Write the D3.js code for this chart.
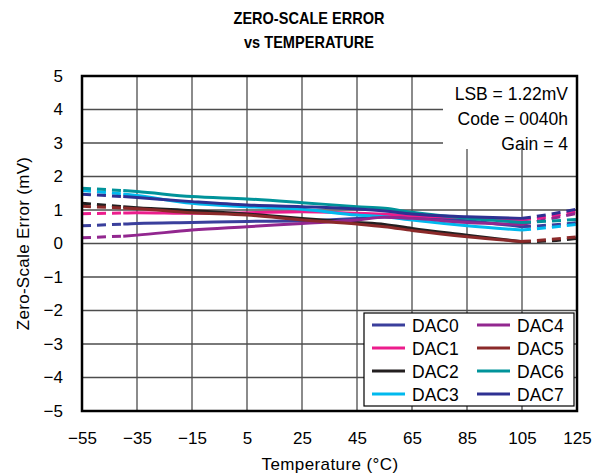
<!DOCTYPE html>
<html><head><meta charset="utf-8">
<script src="https://cdn.jsdelivr.net/npm/d3@7"></script>
<style>body{margin:0;background:#fff;} text{font-family:"Liberation Sans",Arial,sans-serif;}</style>
</head><body><svg id="c" width="603" height="476"></svg>
<script>
const temps = [-55, -40, -35, -15, 5, 25, 45, 55, 65, 85, 105, 115, 125];
const dac0 = [0.53, 0.58, 0.60, 0.63, 0.66, 0.68, 0.75, 0.80, 0.80, 0.68, 0.50, 0.55, 0.62];
const dac1 = [0.89, 0.91, 0.92, 0.90, 0.92, 0.95, 0.90, 0.87, 0.83, 0.77, 0.70, 0.80, 0.95];
const dac2 = [1.20, 1.10, 1.07, 0.98, 0.88, 0.75, 0.63, 0.57, 0.45, 0.25, 0.05, 0.08, 0.15];
const dac3 = [1.58, 1.48, 1.43, 1.20, 1.10, 1.02, 0.85, 0.80, 0.70, 0.53, 0.40, 0.48, 0.57];
const dac4 = [0.17, 0.22, 0.25, 0.40, 0.50, 0.60, 0.70, 0.78, 0.75, 0.63, 0.57, 0.73, 0.90];
const dac5 = [1.11, 1.06, 1.04, 0.92, 0.85, 0.70, 0.58, 0.50, 0.39, 0.20, 0.06, 0.12, 0.20];
const dac6 = [1.65, 1.58, 1.55, 1.40, 1.33, 1.22, 1.10, 1.05, 0.93, 0.75, 0.63, 0.67, 0.72];
const dac7 = [1.47, 1.40, 1.37, 1.25, 1.15, 1.10, 1.03, 0.97, 0.88, 0.80, 0.75, 0.87, 1.03];
const seriesNames = ["DAC0","DAC1","DAC2","DAC3","DAC4","DAC5","DAC6","DAC7"];
const seriesColors = ["#3a3f9c","#ec1c8c","#231f20","#00b9ee","#92278f","#8b2a2a","#00939a","#2e3192"];
const seriesValues = [dac0,dac1,dac2,dac3,dac4,dac5,dac6,dac7];
const xTicks = [-55,-35,-15,5,25,45,65,85,105,125];
const yTicks = [-5,-4,-3,-2,-1,0,1,2,3,4,5];
const solidFrom = -40, solidTo = 105;
const notes = ["LSB = 1.22mV","Code = 0040h","Gain = 4"];
const titleLines = ["ZERO-SCALE ERROR","vs TEMPERATURE"];

const svg = d3.select("#c");
const L=82, R=577, T=76, B=411;
const x = d3.scaleLinear().domain([-55,125]).range([L,R]);
const y = d3.scaleLinear().domain([-5,5]).range([B,T]);
const fmt = v => (v<0 ? "\u2212"+Math.abs(v) : ""+v);
const FONT = "Liberation Sans, Arial, sans-serif";

// title
const titleW = [151,130];
titleLines.forEach((t,i)=>svg.append("text").attr("x",309).attr("y",24+i*24).attr("text-anchor","middle")
  .attr("font-size",17).attr("font-weight","bold").attr("textLength",titleW[i]).attr("lengthAdjust","spacingAndGlyphs").text(t));

// grid
const g = svg.append("g");
g.selectAll(".gx").data(xTicks).join("line").attr("x1",d=>x(d)).attr("x2",d=>x(d)).attr("y1",T).attr("y2",B).attr("stroke","#4d4d4d").attr("stroke-width",1.3);
g.selectAll(".gy").data(yTicks).join("line").attr("y1",d=>y(d)).attr("y2",d=>y(d)).attr("x1",L).attr("x2",R).attr("stroke","#4d4d4d").attr("stroke-width",1.3);

// axes labels
const xa = d3.axisBottom(x).tickValues(xTicks).tickFormat(fmt).tickSize(0).tickPadding(21);
svg.append("g").attr("transform",`translate(0,${B})`).call(xa).call(s=>{s.select(".domain").remove();s.selectAll("text").attr("font-size",17).attr("fill","#000").attr("font-family",FONT);});
const ya = d3.axisLeft(y).tickValues(yTicks).tickFormat(fmt).tickSize(0).tickPadding(19);
svg.append("g").attr("transform",`translate(${L},0)`).call(ya).call(s=>{s.select(".domain").remove();s.selectAll("text").attr("font-size",17).attr("fill","#000").attr("font-family",FONT);});

svg.append("text").attr("x",330).attr("y",470).attr("text-anchor","middle").attr("font-size",17).attr("letter-spacing",0.4).text("Temperature (\u00B0C)");
svg.append("text").attr("transform",`translate(29,${(T+B)/2}) rotate(-90)`).attr("text-anchor","middle").attr("font-size",17).attr("letter-spacing",0.3).text("Zero-Scale Error (mV)");

// annotation box
svg.append("rect").attr("x",443).attr("y",T+1).attr("width",R-443-1).attr("height",72).attr("fill","#fff");
notes.forEach((t,i)=>svg.append("text").attr("x",568).attr("y",100+i*25).attr("text-anchor","end").attr("font-size",17.5).text(t));

// lines
const line = d3.line().x(d=>x(d[0])).y(d=>y(d[1])).curve(d3.curveMonotoneX);
const lg = svg.append("g");
seriesValues.forEach((vals,i)=>{
  const pts = temps.map((t,j)=>[t,vals[j]]);
  const left = pts.filter(p=>p[0]<=solidFrom);
  const mid = pts.filter(p=>p[0]>=solidFrom && p[0]<=solidTo);
  const right = pts.filter(p=>p[0]>=solidTo);
  lg.append("path").attr("d",line(left)).attr("fill","none").attr("stroke",seriesColors[i]).attr("stroke-width",3).attr("stroke-dasharray","9,6");
  lg.append("path").attr("d",line(mid)).attr("fill","none").attr("stroke",seriesColors[i]).attr("stroke-width",3);
  lg.append("path").attr("d",line(right)).attr("fill","none").attr("stroke",seriesColors[i]).attr("stroke-width",3).attr("stroke-dasharray","9,6");
});

// legend
const lx=364, ly=313, lw=210, lh=93;
svg.append("rect").attr("x",lx).attr("y",ly).attr("width",lw).attr("height",lh).attr("fill","#fff").attr("stroke","#000").attr("stroke-width",1.2);
seriesNames.forEach((n,i)=>{
  const col = Math.floor(i/4), row = i%4;
  const bx = lx + 8 + col*105, by = ly + 12 + row*23;
  svg.append("line").attr("x1",bx).attr("x2",bx+33).attr("y1",by).attr("y2",by).attr("stroke",seriesColors[i]).attr("stroke-width",3);
  svg.append("text").attr("x",bx+40).attr("y",by+6.5).attr("font-size",17.5).text(n);
});

// frame
svg.append("rect").attr("x",L).attr("y",T).attr("width",R-L).attr("height",B-T).attr("fill","none").attr("stroke","#000").attr("stroke-width",2.5);
</script></body></html>
